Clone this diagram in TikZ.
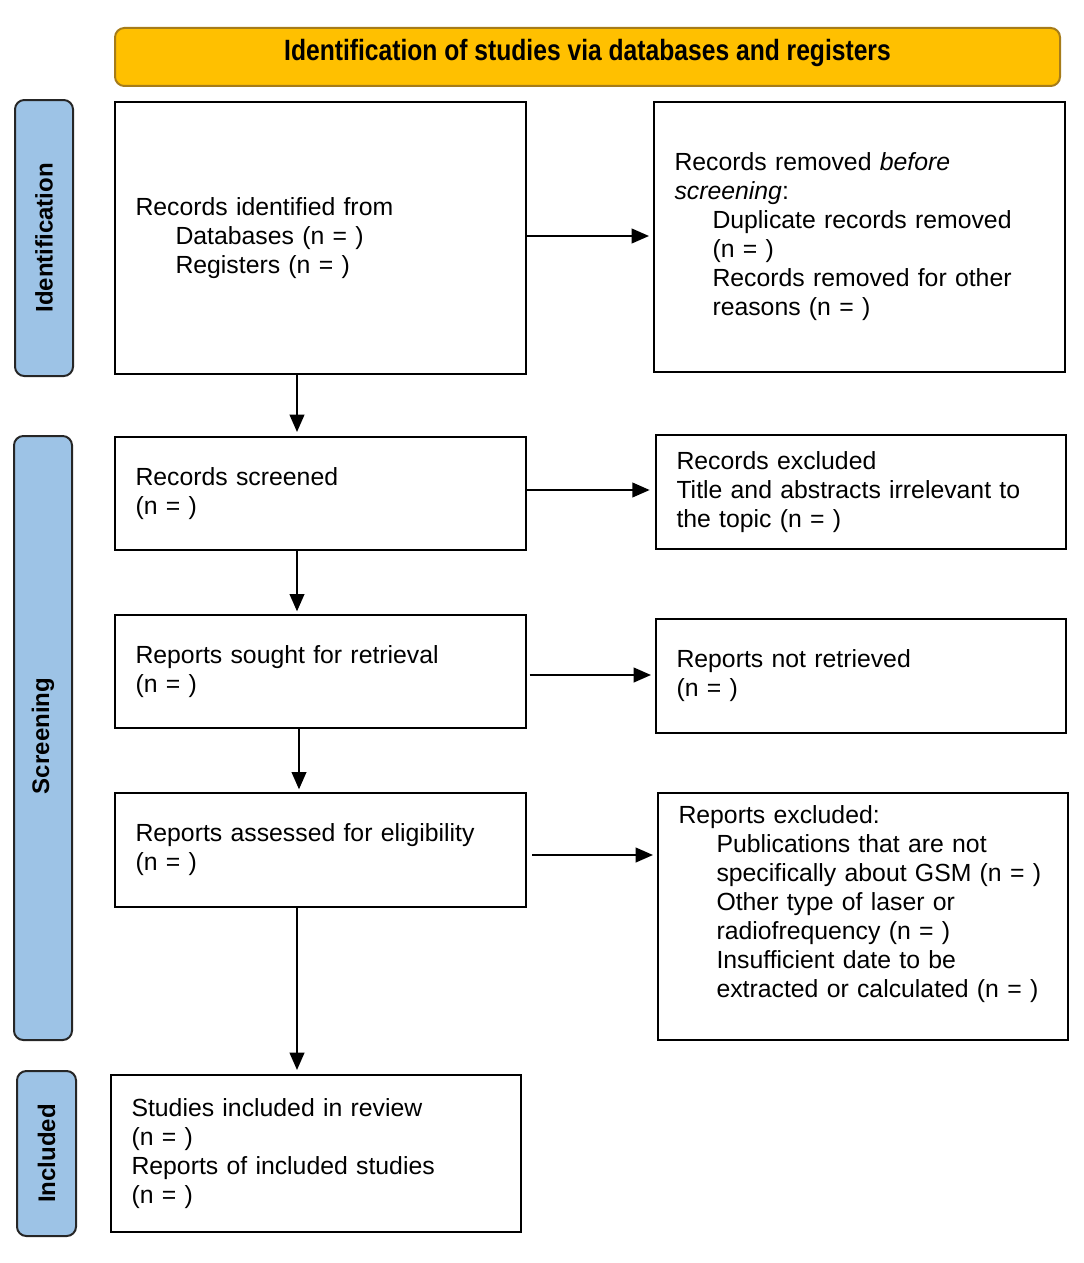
\documentclass[tikz,border=0pt]{standalone}
\usepackage{fontspec}
\setmainfont{Liberation Sans}
\usepackage{graphicx}
\usetikzlibrary{arrows.meta}
\definecolor{prismayellow}{HTML}{FFC000}
\definecolor{prismaedge}{HTML}{A67C1A}
\definecolor{prismablue}{HTML}{9DC3E6}
\begin{document}
\begin{tikzpicture}[x=0.75pt,y=-0.75pt,
  box/.style={draw=black, line width=1.5pt, fill=white, align=left, inner xsep=15pt, inner ysep=0pt,
    font=\fontsize{18.6}{21.75}\selectfont},
  sidebar/.style={draw=black!85, line width=1.5pt, fill=prismablue, rounded corners=7pt},
  sidelabel/.style={rotate=90, font=\bfseries\fontsize{18}{21}\selectfont},
  arr/.style={line width=1.5pt, -{Triangle[length=13pt,width=11pt]}}]
\useasboundingbox (0,0) rectangle (1084,1263);
% title bar
\node[draw=prismaedge, line width=1.5pt, fill=prismayellow, rounded corners=7pt,
  minimum width=945*0.75pt, minimum height=58*0.75pt, inner sep=0pt] (title) at (587.5,57) {};
\node[font=\bfseries\fontsize{22}{26}\selectfont, inner sep=0pt] (titletext) at (587.5,53)
  {\scalebox{0.84}[1]{Identification of studies via databases and registers}};
% side bars
\node[sidebar, minimum width=58*0.75pt, minimum height=276*0.75pt] (sid) at (44,238) {};
\node[sidelabel] (sidt) at (44,238) {Identification};
\node[sidebar, minimum width=58*0.75pt, minimum height=604*0.75pt] (sscr) at (43,738) {};
\node[sidelabel] (sscrt) at (43,736) {Screening};
\node[sidebar, minimum width=59*0.75pt, minimum height=165*0.75pt] (sinc) at (46.5,1153.5) {};
\node[sidelabel] (sinct) at (46.5,1153.5) {Included};
% boxes
\node[box, minimum width=411*0.75pt, minimum height=272*0.75pt, text width=370*0.75pt] (b1) at (320.5,238)
  {Records identified from\\\hspace*{30pt}Databases (n = )\\\hspace*{30pt}Registers (n = )};
\node[box, minimum width=411*0.75pt, minimum height=270*0.75pt, text width=370*0.75pt] (b2) at (859.5,237)
  {Records removed \textit{before}\\\textit{screening}:\\\hspace*{28.5pt}Duplicate records removed\\\hspace*{28.5pt}(n = )\\\hspace*{28.5pt}Records removed for other\\\hspace*{28.5pt}reasons (n = )};
\node[box, minimum width=411*0.75pt, minimum height=113*0.75pt, text width=370*0.75pt] (b3) at (320.5,493.5)
  {Records screened\\(n = )};
\node[box, minimum width=410*0.75pt, minimum height=114*0.75pt, text width=369*0.75pt] (b4) at (861,492)
  {Records excluded\\Title and abstracts irrelevant to\\the topic (n = )};
\node[box, minimum width=411*0.75pt, minimum height=113*0.75pt, text width=370*0.75pt] (b5) at (320.5,671.5)
  {Reports sought for retrieval\\(n = )};
\node[box, minimum width=410*0.75pt, minimum height=114*0.75pt, text width=369*0.75pt] (b6) at (861,676)
  {Reports not retrieved\\(n = )};
\node[box, minimum width=411*0.75pt, minimum height=114*0.75pt, text width=370*0.75pt] (b7) at (320.5,850)
  {Reports assessed for eligibility\\(n = )};
\node[box, minimum width=410*0.75pt, minimum height=247*0.75pt, text width=369*0.75pt] (b8) at (863,916.5)
  {Reports excluded:\\\hspace*{28.5pt}Publications that are not\\\hspace*{28.5pt}specifically about GSM (n = )\\\hspace*{28.5pt}Other type of laser or\\\hspace*{28.5pt}radiofrequency (n = )\\\hspace*{28.5pt}Insufficient date to be\\\hspace*{28.5pt}extracted or calculated (n = )\\\mbox{}};
\node[box, minimum width=410*0.75pt, minimum height=157*0.75pt, text width=369*0.75pt] (b9) at (316,1153.5)
  {Studies included in review\\(n = )\\Reports of included studies\\(n = )};
% guide coordinates
\coordinate (vx1) at (297,0);
\coordinate (vx2) at (299,0);
\coordinate (hy1) at (0,236);
\coordinate (hy2) at (0,490);
\coordinate (hy3) at (0,675);
\coordinate (hy4) at (0,855);
% horizontal arrows
\draw[arr] (b1.east |- hy1) -- ([xshift=-3pt]b2.west |- hy1);
\draw[arr] (b3.east |- hy2) -- ([xshift=-4pt]b4.west |- hy2);
\draw[arr] ([xshift=2pt]b5.east |- hy3) -- ([xshift=-3pt]b6.west |- hy3);
\draw[arr] ([xshift=4pt]b7.east |- hy4) -- ([xshift=-3pt]b8.west |- hy4);
% vertical arrows
\draw[arr] (b1.south -| vx1) -- ([yshift=3pt]b3.north -| vx1);
\draw[arr] (b3.south -| vx1) -- ([yshift=2pt]b5.north -| vx1);
\draw[arr] (b5.south -| vx2) -- ([yshift=2pt]b7.north -| vx2);
\draw[arr] (b7.south -| vx1) -- ([yshift=3pt]b9.north -| vx1);
\end{tikzpicture}
\end{document}
